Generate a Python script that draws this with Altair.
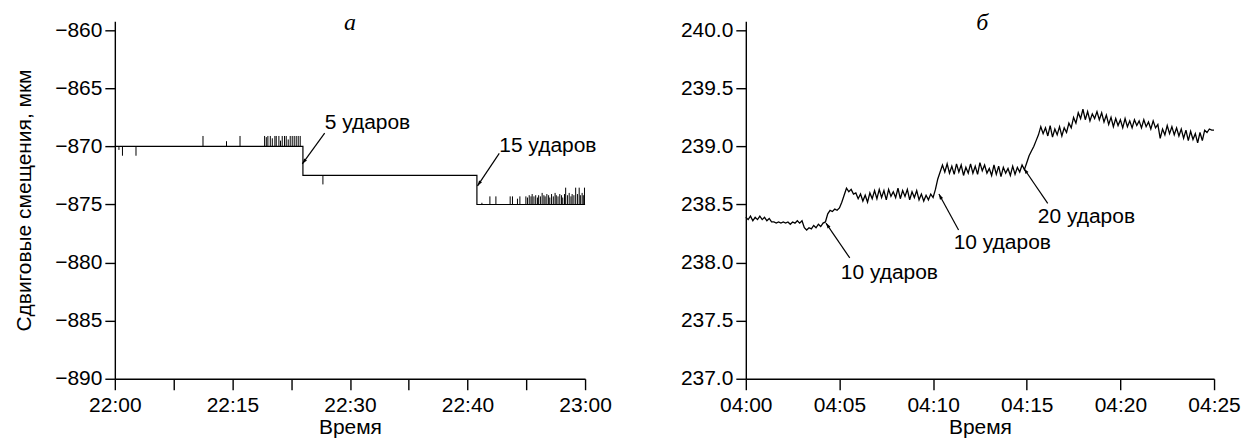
import json
import math
import altair as alt
import pandas as pd

FONT = "Liberation Sans"
FS = 21

# ---------------- Panel a ----------------
a_tick_labels = ["22:00", "", "22:15", "", "22:30", "", "22:40", "", "23:00"]
a_y_ticks = [-890, -885, -880, -875, -870, -865, -860]
a_step_x = [0.0, 3.2, 3.2, 6.16, 6.16, 8.0]
a_step_y = [-870.0, -870.0, -872.5, -872.5, -875.0, -875.0]

a_spike_x = [0.07, 0.13, 0.36, 1.50, 1.90, 2.13,
             2.548, 2.577, 2.604, 2.645, 2.679, 2.723, 2.746, 2.791, 2.819, 2.848,
             2.887, 2.916, 2.950, 2.984, 3.018, 3.052, 3.086, 3.120, 3.154,
             3.54,
             6.245, 6.381, 6.483, 6.726, 6.765, 6.850, 6.891, 6.993,
             7.02, 7.05, 7.08, 7.10, 7.13, 7.16, 7.19, 7.21, 7.24, 7.27, 7.30, 7.32,
             7.35, 7.38, 7.40, 7.43, 7.46, 7.49, 7.51, 7.54, 7.57, 7.60, 7.62, 7.65,
             7.67, 7.70, 7.73, 7.76, 7.78, 7.81, 7.84, 7.87, 7.90, 7.92, 7.95, 7.97, 7.99]
a_spike_top = [-870.3, -870.8, -870.8, -869.1, -869.55, -869.1,
               -869.1, -869.2, -869.1, -869.1, -869.3, -869.1, -869.1, -869.1, -869.5, -869.1,
               -869.1, -869.1, -869.4, -869.1, -869.1, -869.1, -869.1, -869.1, -869.1,
               -873.27,
               -874.85, -874.3, -874.3, -874.3, -874.3, -874.5, -874.3, -874.3,
               -874.4, -874.2, -874.3, -874.1, -874.3, -874.2, -874.4, -874.2, -874.3, -874.0, -874.2, -874.3,
               -874.1, -874.2, -874.4, -874.1, -874.3, -874.0, -874.2, -874.3, -874.1, -874.2, -874.4, -874.1,
               -873.55, -874.2, -874.0, -874.3, -874.1, -874.2, -873.55, -874.1, -873.55, -874.2, -874.0, -874.2, -873.55]

a_note_text = ["5 ударов", "15 ударов"]
a_note_tx = [3.57, 6.54]
a_note_ty = [-868.0, -870.0]
a_arrow_tip_x = [3.19, 6.17]
a_arrow_tip_y = [-871.5, -873.4]
a_arrow_tail_x = [3.57, 6.54]
a_arrow_tail_y = [-868.85, -870.6]

# ---------------- Panel б ----------------
b_tick_labels = ["04:00", "04:05", "04:10", "04:15", "04:20", "04:25"]
b_y_ticks = [237.0, 237.5, 238.0, 238.5, 239.0, 239.5, 240.0]
b_step_min = 0.125
b_values = [
    238.39, 238.37, 238.40, 238.36, 238.39, 238.37, 238.40, 238.37,
    238.39, 238.36, 238.38, 238.35, 238.35, 238.34, 238.35, 238.34,
    238.35, 238.34, 238.35, 238.33, 238.35, 238.34, 238.36, 238.34,
    238.36, 238.30, 238.28, 238.30, 238.29, 238.32, 238.30, 238.33,
    238.31, 238.34, 238.35, 238.42, 238.45, 238.44, 238.46, 238.45,
    238.47, 238.52, 238.58, 238.64, 238.61, 238.63, 238.59, 238.60,
    238.55, 238.59, 238.53, 238.58, 238.52, 238.60, 238.55, 238.62,
    238.55, 238.63, 238.56, 238.62, 238.54, 238.63, 238.57, 238.61,
    238.56, 238.64, 238.55, 238.62, 238.57, 238.63, 238.54, 238.61,
    238.56, 238.62, 238.54, 238.59, 238.53, 238.58, 238.54, 238.59,
    238.56, 238.63, 238.72, 238.78, 238.84, 238.78, 238.85, 238.77,
    238.83, 238.76, 238.85, 238.78, 238.84, 238.75, 238.82, 238.77,
    238.85, 238.77, 238.83, 238.76, 238.86, 238.79, 238.84, 238.77,
    238.81, 238.75, 238.84, 238.76, 238.83, 238.74, 238.82, 238.77,
    238.81, 238.75, 238.83, 238.76, 238.82, 238.78, 238.84, 238.80,
    238.86, 238.92, 238.96, 239.00, 239.05, 239.10, 239.17, 239.11,
    239.16, 239.09, 239.18, 239.08, 239.15, 239.10, 239.17, 239.09,
    239.16, 239.12, 239.20, 239.16, 239.25, 239.20, 239.29, 239.24,
    239.32, 239.23, 239.30, 239.22, 239.28, 239.24, 239.30, 239.23,
    239.29, 239.21, 239.27, 239.19, 239.25, 239.17, 239.24, 239.18,
    239.23, 239.16, 239.24, 239.17, 239.22, 239.16, 239.23, 239.18,
    239.22, 239.16, 239.23, 239.17, 239.21, 239.15, 239.22, 239.16,
    239.19, 239.07, 239.15, 239.10, 239.18, 239.11, 239.17, 239.10,
    239.16, 239.09, 239.15, 239.07, 239.14, 239.05, 239.13, 239.06,
    239.11, 239.03, 239.12, 239.05, 239.14, 239.12, 239.15, 239.14,
    239.14,
]
b_note_text = ["10 ударов", "10 ударов", "20 ударов"]
b_note_tx = [5.07, 11.1, 15.59]
b_note_ty = [237.91, 238.17, 238.39]
b_arrow_tip_x = [4.28, 10.31, 14.85]
b_arrow_tip_y = [238.34, 238.59, 238.81]
b_arrow_tail_x = [5.55, 11.36, 16.12]
b_arrow_tail_y = [238.04, 238.28, 238.51]

# ---------------- layout ----------------
WA, WB, H = 471, 469, 358
A_XDOM, A_YDOM = [0, 8], [-890, -859.23]
B_XDOM, B_YDOM = [0, 25], [237.0, 240.077]
HEAD = "M0,0L-0.32,1L0.32,1Z"


def arrows_df(tx, ty, sx_, sy_, w, h, xdom, ydom):
    sx = w / (xdom[1] - xdom[0])
    sy = h / (ydom[1] - ydom[0])
    rows = []
    for x1, y1, x0, y0 in zip(tx, ty, sx_, sy_):
        dx = (x1 - x0) * sx
        dy = -(y1 - y0) * sy
        ang = math.degrees(math.atan2(dx, -dy)) % 360
        rows.append({"x": x1, "y": y1, "x2": x0, "y2": y0, "ang": ang})
    return pd.DataFrame(rows)


def panel(line_df, xdom, ydom, w, xaxis, yaxis, extra, lw):
    xs = alt.Scale(domain=xdom, nice=False, zero=False)
    ys = alt.Scale(domain=ydom, nice=False, zero=False)
    X = lambda f: alt.X(f, type="quantitative", scale=xs, axis=xaxis)
    Y = lambda f: alt.Y(f, type="quantitative", scale=ys, axis=yaxis)
    layers = [alt.Chart(line_df).mark_line(color="black", strokeWidth=lw).encode(
        x=X("x"), y=Y("y"), order=alt.Order("o:Q"))]
    for build in extra:
        layers.append(build(X, Y))
    return alt.layer(*layers).properties(width=w, height=H)


# ---- panel a pieces ----
a_line = pd.DataFrame({"x": a_step_x, "y": a_step_y, "o": list(range(len(a_step_x)))})


def a_level(x):
    if x < a_step_x[1]:
        return a_step_y[0]
    if x < a_step_x[3]:
        return a_step_y[2]
    return a_step_y[4]


a_spikes = pd.DataFrame({"x": a_spike_x, "y": [a_level(v) for v in a_spike_x], "y2": a_spike_top})
a_arr = arrows_df(a_arrow_tip_x, a_arrow_tip_y, a_arrow_tail_x, a_arrow_tail_y, WA, H, A_XDOM, A_YDOM)
a_txt = pd.DataFrame({"x": a_note_tx, "y": a_note_ty, "t": a_note_text})
a_ttl = pd.DataFrame({"x": [4.0], "y": [-859.4], "t": ["a"]})

b_line = pd.DataFrame({"x": [i * b_step_min for i in range(len(b_values))], "y": b_values,
                       "o": list(range(len(b_values)))})
b_arr = arrows_df(b_arrow_tip_x, b_arrow_tip_y, b_arrow_tail_x, b_arrow_tail_y, WB, H, B_XDOM, B_YDOM)
b_txt = pd.DataFrame({"x": b_note_tx, "y": b_note_ty, "t": b_note_text})
b_ttl = pd.DataFrame({"x": [12.63], "y": [240.06], "t": ["б"]})


def spikes_layer(df):
    return lambda X, Y: alt.Chart(df).mark_rule(color="black", strokeWidth=1).encode(
        x=X("x"), y=Y("y"), y2="y2")


def arrow_layers(df):
    return [
        lambda X, Y: alt.Chart(df).mark_rule(color="black", strokeWidth=1.2).encode(
            x=X("x"), y=Y("y"), x2="x2", y2="y2"),
        lambda X, Y: alt.Chart(df).mark_point(shape=HEAD, filled=True, color="black",
                                              size=120, opacity=1).encode(
            x=X("x"), y=Y("y"), angle=alt.Angle("ang:Q", scale=None)),
    ]


def text_layer(df):
    return lambda X, Y: alt.Chart(df).mark_text(align="left", baseline="middle", font=FONT,
                                                fontSize=FS, color="black").encode(
        x=X("x"), y=Y("y"), text="t:N")


def title_layer(df):
    return lambda X, Y: alt.Chart(df).mark_text(align="center", baseline="middle",
                                                font="Liberation Serif", fontStyle="italic",
                                                fontSize=24, color="black").encode(
        x=X("x"), y=Y("y"), text="t:N")


a_xaxis = alt.Axis(values=list(range(len(a_tick_labels))),
                   labelExpr=json.dumps(a_tick_labels) + "[datum.value]",
                   title="Время", tickSize=11, labelPadding=5, titlePadding=1)
a_yaxis = alt.Axis(values=a_y_ticks, format="d", title="Сдвиговые смещения, мкм",
                   tickSize=10, labelPadding=3, titlePadding=20)
b_xaxis = alt.Axis(values=[5 * i for i in range(len(b_tick_labels))],
                   labelExpr=json.dumps(b_tick_labels) + "[datum.value / 5]",
                   title="Время", tickSize=11, labelPadding=5, titlePadding=1)
b_yaxis = alt.Axis(values=b_y_ticks, format=".1f", title="", tickSize=10, labelPadding=3)

left = panel(a_line, A_XDOM, A_YDOM, WA, a_xaxis, a_yaxis,
             [spikes_layer(a_spikes)] + arrow_layers(a_arr) + [text_layer(a_txt), title_layer(a_ttl)],
             1.2)
right = panel(b_line, B_XDOM, B_YDOM, WB, b_xaxis, b_yaxis,
              arrow_layers(b_arr) + [text_layer(b_txt), title_layer(b_ttl)], 1.3)

chart = alt.hconcat(left, right, spacing=68).properties(
    padding={"left": 5, "top": 2, "right": 0, "bottom": 0}
).configure_view(stroke=None).configure_axis(
    domainColor="black", domainWidth=1.4, tickColor="black", tickWidth=1.4,
    labelFont=FONT, labelFontSize=FS, labelColor="black",
    titleFont=FONT, titleFontSize=FS, titleColor="black", titleFontWeight="normal",
    grid=False, labelFlush=False, labelOverlap=False
)

chart.save("out.html", embed_options={"renderer": "svg", "actions": False})
